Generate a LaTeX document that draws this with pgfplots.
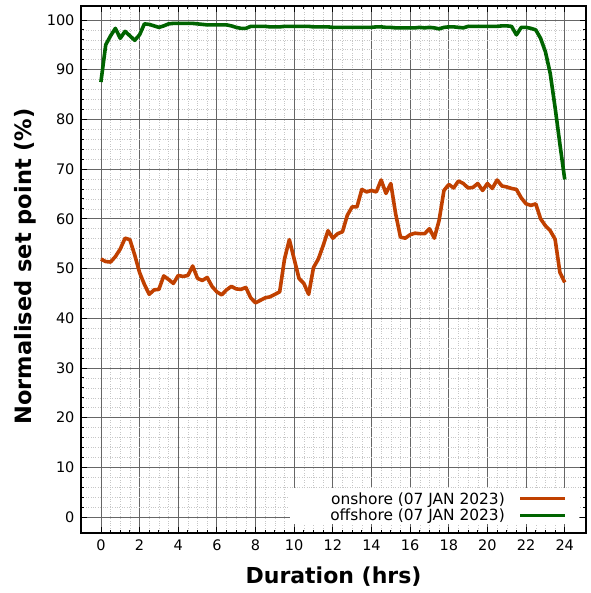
\documentclass[border=0pt]{standalone}
\usepackage{pgfplots}
\usepackage{pgfplotstable}
\pgfplotsset{compat=1.18}
\usepackage{fontspec}
\setmainfont{DejaVu Sans}
\definecolor{onshorec}{HTML}{C04000}
\definecolor{offshorec}{HTML}{006400}

\pgfplotstableread{
x y
0 51.9
0.25 51.4
0.5 51.3
0.75 52.4
1.0 53.9
1.25 56.1
1.5 55.8
1.75 52.7
2.0 49.2
2.25 46.8
2.5 44.8
2.75 45.7
3.0 45.8
3.25 48.5
3.5 47.8
3.75 47.0
4.0 48.6
4.25 48.4
4.5 48.6
4.75 50.5
5.0 48.0
5.25 47.6
5.5 48.2
5.75 46.4
6.0 45.3
6.25 44.7
6.5 45.7
6.75 46.4
7.0 45.9
7.25 45.8
7.5 46.2
7.75 44.1
8.0 43.1
8.25 43.6
8.5 44.1
8.75 44.3
9.0 44.8
9.25 45.3
9.5 51.9
9.75 55.8
10.0 51.9
10.25 48.0
10.5 47.0
10.75 44.8
11.0 50.2
11.25 51.9
11.5 54.6
11.75 57.6
12.0 56.1
12.25 57.0
12.5 57.4
12.75 60.7
13.0 62.4
13.25 62.4
13.5 65.9
13.75 65.4
14.0 65.7
14.25 65.4
14.5 67.8
14.75 65.1
15.0 67.1
15.25 61.0
15.5 56.3
15.75 56.1
16.0 56.8
16.25 57.1
16.5 57.0
16.75 57.0
17.0 58.0
17.25 56.1
17.5 59.7
17.75 65.7
18.0 66.9
18.25 66.2
18.5 67.6
18.75 67.1
19.0 66.2
19.25 66.3
19.5 67.1
19.75 65.7
20.0 67.1
20.25 66.1
20.5 67.8
20.75 66.6
21.0 66.4
21.25 66.1
21.5 65.9
21.75 64.2
22.0 63.0
22.25 62.7
22.5 63.0
22.75 60.0
23.0 58.6
23.25 57.6
23.5 55.9
23.75 49.2
24.0 47.2
}\onshore

\pgfplotstableread{
x y
0 87.5
0.25 95.0
0.5 96.8
0.75 98.3
1.0 96.3
1.25 97.7
1.5 96.8
1.75 95.9
2.0 97.0
2.25 99.2
2.5 99.1
2.75 98.8
3.0 98.5
3.25 98.8
3.5 99.2
3.75 99.3
4.0 99.3
4.25 99.3
4.5 99.3
4.75 99.3
5.0 99.2
5.25 99.1
5.5 99.0
5.75 99.0
6.0 99.0
6.25 99.0
6.5 99.0
6.75 98.8
7.0 98.5
7.25 98.3
7.5 98.3
7.75 98.7
8.0 98.7
8.25 98.7
8.5 98.7
8.75 98.6
9.0 98.6
9.25 98.6
9.5 98.7
9.75 98.7
10.0 98.7
10.25 98.7
10.5 98.7
10.75 98.7
11.0 98.6
11.25 98.6
11.5 98.6
11.75 98.6
12.0 98.5
12.25 98.5
12.5 98.5
12.75 98.5
13.0 98.5
13.25 98.5
13.5 98.5
13.75 98.5
14.0 98.5
14.25 98.6
14.5 98.6
14.75 98.5
15.0 98.5
15.25 98.4
15.5 98.4
15.75 98.4
16.0 98.4
16.25 98.4
16.5 98.5
16.75 98.4
17.0 98.5
17.25 98.4
17.5 98.2
17.75 98.5
18.0 98.6
18.25 98.6
18.5 98.5
18.75 98.4
19.0 98.7
19.25 98.7
19.5 98.7
19.75 98.7
20.0 98.7
20.25 98.7
20.5 98.7
20.75 98.8
21.0 98.8
21.25 98.7
21.5 97.0
21.75 98.5
22.0 98.5
22.25 98.3
22.5 98.0
22.75 96.3
23.0 93.6
23.25 89.2
23.5 82.4
23.75 75.0
24.0 67.9
}\offshore

\begin{document}
\begin{tikzpicture}
\begin{axis}[
  scale only axis, width=505pt, height=527pt,
  xmin=-1.03, xmax=25.1, ymin=-3.2, ymax=102.8,
  xtick={0,2,...,24}, ytick={0,10,...,100},
  minor x tick num=3, minor y tick num=4,
  grid=both,
  major grid style={black!60, line width=0.75pt},
  minor grid style={black!22, dotted, line width=0.5pt},
  axis line style={line width=1.3pt},
  major tick length=6pt, minor tick length=3.5pt,
  tick style={black, line width=0.8pt},
  tick label style={font=\fontsize{14.5}{16}\selectfont},
  /pgf/number format/assume math mode=true,
  xticklabel style={yshift=-3pt},
  yticklabel style={xshift=-3pt},
  xlabel={Duration (hrs)}, ylabel={Normalised set point (\%)},
  every axis x label/.style={at={([yshift=-44pt]axis description cs:0.5,0)}, anchor=center, font=\fontsize{22}{26}\selectfont\bfseries},
  every axis y label/.style={at={([xshift=-56pt]axis description cs:0,0.506)}, anchor=center, rotate=90, font=\fontsize{22.5}{26}\selectfont\bfseries},
  legend style={draw=none, fill=none, at={(rel axis cs:1,0)}, anchor=south east, xshift=-16pt, yshift=6.5pt, font=\fontsize{15.4}{17}\selectfont, row sep=-0.5pt,
    /tikz/every odd column/.append style={column sep=12pt}},
  legend cell align=right,
  legend plot pos=right,
  legend image code/.code={\draw[#1,line width=3pt] (0pt,0pt) -- (45pt,0pt);},
]
\fill[white] (axis cs:9.78,-1.3) rectangle (axis cs:24.75,5.8);
\addplot[onshorec, line width=3.6pt, line join=round] table[x=x,y=y] {\onshore};
\addlegendentry{onshore (07 JAN 2023)}
\addplot[offshorec, line width=3.6pt, line join=round] table[x=x,y=y] {\offshore};
\addlegendentry{offshore (07 JAN 2023)}
\end{axis}
\pgfresetboundingbox
\path[use as bounding box] ([shift={(-81pt,-60pt)}]current axis.south west) rectangle ([shift={(4pt,6pt)}]current axis.north east);
\end{tikzpicture}
\end{document}
